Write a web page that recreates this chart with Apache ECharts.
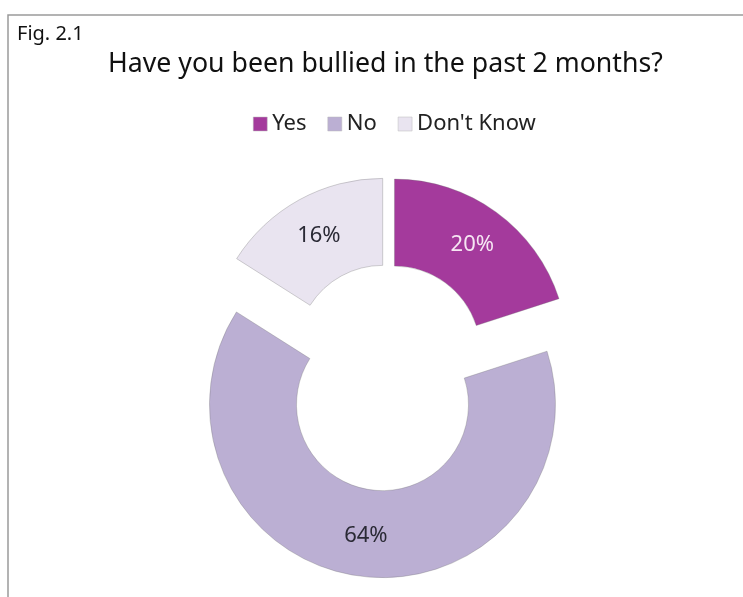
<!DOCTYPE html>
<html>
<head>
<meta charset="utf-8">
<script src="https://cdn.jsdelivr.net/npm/echarts@6/dist/echarts.min.js"></script>
<style>
  html, body { margin: 0; padding: 0; background: #fff; }
  #chart { width: 743px; height: 597px; }
</style>
</head>
<body>
<div id="chart"></div>
<script>
// answers and their share (%)
const categories = ['Yes', 'No', "Don't Know"];
const values = [20, 64, 16];
const palette = ['#a43a9c', '#bbafd3', '#e9e4f0'];
const labelColors = ['#f6e6f3', '#2a2a35', '#2a2a35'];

// the "No" slice is pulled out further than the other two
const farSlice = 'No';

const font = 'Noto Sans';

function sliceData(showFar) {
  return categories.map((name, i) => {
    const visible = (name === farSlice) === showFar;
    if (!visible) {
      return {
        name,
        value: values[i],
        itemStyle: { color: 'rgba(0,0,0,0)', borderWidth: 0 },
        label: { show: false },
        emphasis: { disabled: true },
        silent: true
      };
    }
    return {
      name,
      value: values[i],
      selected: true,
      itemStyle: { color: palette[i] },
      label: { color: labelColors[i] }
    };
  });
}

function pieSeries(showFar, offset) {
  return {
    type: 'pie',
    center: [388, 361],
    radius: [86, 173],
    startAngle: 90,
    clockwise: true,
    selectedMode: 'multiple',
    selectedOffset: offset,
    avoidLabelOverlap: false,
    itemStyle: {
      borderColor: 'rgba(110,110,110,0.45)',
      borderWidth: 0.7
    },
    label: {
      show: true,
      position: 'inside',
      formatter: '{c}%',
      fontFamily: font,
      fontSize: 22
    },
    labelLine: { show: false },
    emphasis: { scale: false },
    select: { itemStyle: { borderColor: 'rgba(110,110,110,0.45)', borderWidth: 0.7 } },
    data: sliceData(showFar)
  };
}

const chart = echarts.init(document.getElementById('chart'));
chart.setOption({
  animation: false,
  backgroundColor: '#fff',
  title: [
    {
      text: 'Have you been bullied in the past 2 months?',
      left: 103,
      top: 46,
      textStyle: { fontFamily: font, fontSize: 26.7, fontWeight: 'normal', color: '#111' }
    },
    {
      text: 'Fig. 2.1',
      left: 12,
      top: 19,
      textStyle: { fontFamily: font, fontSize: 20, fontWeight: 'normal', color: '#111' }
    }
  ],
  legend: {
    top: 108,
    left: 248,
    icon: 'rect',
    itemWidth: 14,
    itemHeight: 14,
    itemGap: 21,
    selectedMode: false,
    textStyle: { fontFamily: font, fontSize: 22, color: '#222' },
    data: categories.map((name, i) => ({
      name,
      itemStyle: { color: palette[i], borderColor: '#bbb', borderWidth: 0.5 }
    }))
  },
  graphic: [
    {
      type: 'polyline',
      shape: { points: [[8, 597], [8, 15], [743, 15]] },
      style: { stroke: '#9a9a9a', lineWidth: 1.5, fill: null }
    }
  ],
  series: [pieSeries(false, 11), pieSeries(true, 44)]
});
</script>
</body>
</html>
